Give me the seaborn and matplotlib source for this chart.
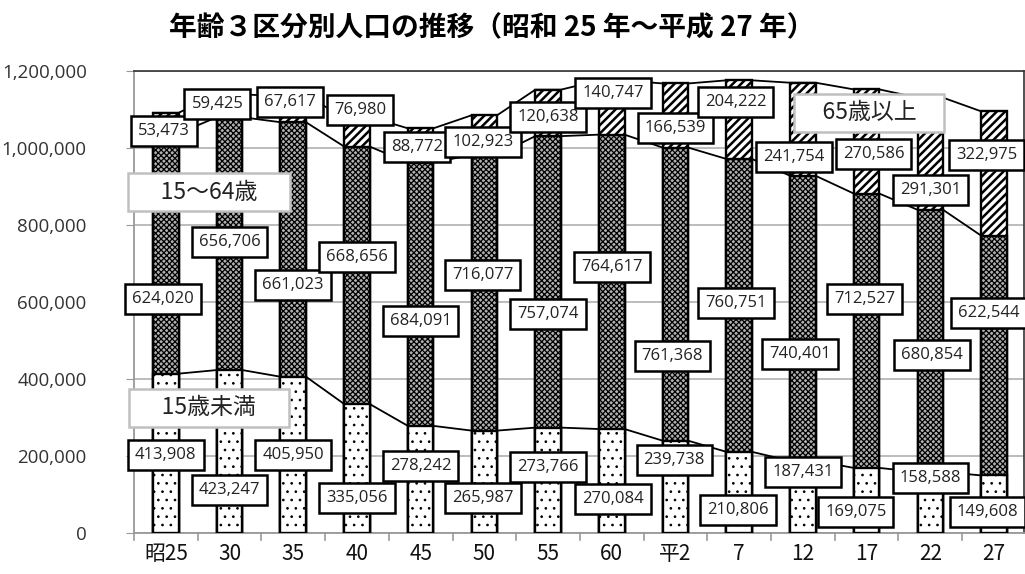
import matplotlib
matplotlib.use("Agg")
import matplotlib.pyplot as plt
import seaborn as sns
import numpy as np
import pandas as pd

# ---- data ----
years = ["昭25", "30", "35", "40", "45", "50", "55", "60", "平2", "7", "12", "17", "22", "27"]
age_0_14 = [413908, 423247, 405950, 335056, 278242, 265987, 273766, 270084, 239738, 210806, 187431, 169075, 158588, 149608]
age_15_64 = [624020, 656706, 661023, 668656, 684091, 716077, 757074, 764617, 761368, 760751, 740401, 712527, 680854, 622544]
age_65 = [53473, 59425, 67617, 76980, 88772, 102923, 120638, 140747, 166539, 204222, 241754, 270586, 291301, 322975]
yticks = [0, 200000, 400000, 600000, 800000, 1000000, 1200000]
title = "年齢３区分別人口の推移（昭和 25 年～平成 27 年）"

# label placement (x offset from bar, y position in data units)
pos_65 = [(-0.03, 1044000), (-0.19, 1114000), (-0.05, 1119000), (0.05, 1098000), (-0.06, 1003000),
          (-0.02, 1015000), (0.0, 1080000), (0.02, 1142000), (0.0, 1052000), (-0.06, 1119000),
          (-0.14, 977000), (0.11, 984000), (0.0, 891000), (-0.12, 982000)]
pos_1564 = [(-0.05, 609000), (0.0, 756000), (0.0, 644000), (0.0, 717000), (0.0, 551000),
            (-0.03, 669000), (0.0, 569000), (0.0, 692000), (-0.05, 460000), (-0.05, 598000),
            (-0.05, 465000), (-0.03, 608000), (0.02, 462000), (-0.08, 571000)]
pos_014 = [(0.0, 203000), (0.0, 112000), (0.0, 203000), (0.0, 91000), (0.0, 174000),
           (-0.02, 91000), (0.0, 171000), (0.02, 88000), (-0.02, 189000), (-0.02, 60000),
           (0.0, 158000), (-0.17, 55000), (0.0, 143000), (-0.1, 55000)]

df = pd.DataFrame({"year": years, "a": age_0_14, "b": age_15_64, "c": age_65})
df["ab"] = df["a"] + df["b"]
df["abc"] = df["ab"] + df["c"]

plt.rcParams["font.family"] = ["Noto Sans CJK JP", "DejaVu Sans"]

fig = plt.figure(figsize=(10.25, 5.74), dpi=100)
ax = fig.add_axes([0.1307, 0.0714, 0.8683, 0.8049])

bw = 0.4
with plt.rc_context({"hatch.linewidth": 1.8}):
    sns.barplot(data=df, x="year", y="abc", ax=ax, color="white", width=bw,
                edgecolor="black", linewidth=1.7, hatch="////", saturation=1, zorder=3)
with plt.rc_context({"hatch.linewidth": 0.9}):
    sns.barplot(data=df, x="year", y="ab", ax=ax, color="#b0b0b0", width=bw,
                edgecolor="black", linewidth=1.7, hatch="xxxxxx", saturation=1, zorder=4)
with plt.rc_context({"hatch.linewidth": 0.7}):
    sns.barplot(data=df, x="year", y="a", ax=ax, color="white", width=bw,
                edgecolor="black", linewidth=1.7, hatch="..", saturation=1, zorder=5)

# series lines (connecting segment tops between bars)
xs = np.arange(len(years))
for col in ["a", "ab", "abc"]:
    lx, ly = [], []
    for i, v in enumerate(df[col]):
        lx += [i - bw / 2, i + bw / 2]
        ly += [v, v]
    ax.plot(lx, ly, color="black", lw=1.3, zorder=2.5)

num_font = ["Open Sans", "DejaVu Sans"]
bbox = dict(boxstyle="square,pad=0.42", fc="white", ec="black", lw=1.8)
for vals, poss in [(age_65, pos_65), (age_15_64, pos_1564), (age_0_14, pos_014)]:
    for i, (v, (dx, yy)) in enumerate(zip(vals, poss)):
        ax.text(i + dx, yy, f"{v:,}", ha="center", va="center", fontsize=12,
                family=num_font, color="#222222", bbox=bbox, zorder=10, clip_on=False)

cat_box = dict(boxstyle="square,pad=0.32", fc="white", ec="#c0c0c0", lw=1.8)
ax.text(0.676, 885000, "     15～64歳     ", ha="center", va="center", fontsize=16.5, bbox=cat_box,
        zorder=11, color="#222222")
ax.text(0.676, 325000, "     15歳未満     ", ha="center", va="center", fontsize=16.5, bbox=cat_box,
        zorder=11, color="#222222")
ax.text(11.04, 1091000, "    65歳以上    ", ha="center", va="center", fontsize=16.5, bbox=cat_box,
        zorder=11, color="#222222")

ax.set_xlim(-0.5, 13.47)
ax.set_ylim(0, 1200000)
ax.set_yticks(yticks)
ax.set_yticklabels([f"{t:,}" for t in yticks], family=["Open Sans", "DejaVu Sans"],
                   fontsize=13.5, color="#333333")
ax.set_xticks(xs)
ax.set_xticklabels(years, fontsize=15, color="#111111")
ax.tick_params(axis="x", length=0, pad=7)
ax.tick_params(axis="y", length=6, color="#999999", pad=28)
for b in np.arange(-0.5, 13.5, 1.0):
    ax.plot([b, b], [0, -18000], color="#999999", lw=1.2, clip_on=False, zorder=1)
ax.set_xlabel("")
ax.set_ylabel("")
ax.grid(axis="y", color="#b0b0b0", lw=1.2, zorder=0)
ax.set_axisbelow(True)
for s in ["left", "bottom"]:
    ax.spines[s].set_color("#999999")
    ax.spines[s].set_linewidth(1.3)
for s in ["top", "right"]:
    ax.spines[s].set_color("#333333")
    ax.spines[s].set_linewidth(1.2)

fig.text(0.48, 0.951, title, ha="center", va="center", fontsize=20, fontweight="bold")

fig.savefig("out.png", dpi=100)
